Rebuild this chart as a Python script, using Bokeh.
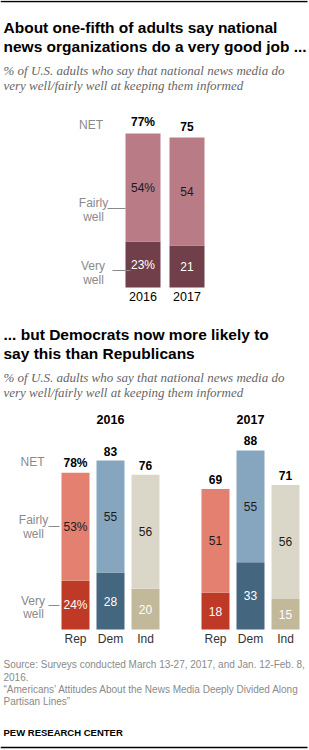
from bokeh.plotting import figure
from bokeh.layouts import column
from bokeh.models import Range1d
from bokeh.core.properties import value
from bokeh.embed import file_html
from bokeh.resources import INLINE

# ---------------- data ----------------
years = ["2016", "2017"]
all_very = [23, 21]
all_fairly = [54, 54]
all_net = [77, 75]

parties = ["Rep", "Dem", "Ind"]
very_2016 = [24, 28, 20]
fairly_2016 = [53, 55, 56]
net_2016 = [78, 83, 76]
very_2017 = [18, 33, 15]
fairly_2017 = [51, 55, 56]
net_2017 = [69, 88, 71]

title1 = ["About one-fifth of adults say national",
          "news organizations do a very good job ..."]
title2 = ["... but Democrats now more likely to",
          "say this than Republicans"]
subtitle = ["% of U.S. adults who say that national news media do",
            "very well/fairly well at keeping them informed"]
footer = ["Source: Surveys conducted March 13-27, 2017, and Jan. 12-Feb. 8,",
          "2016.",
          "\u201cAmericans\u2019 Attitudes About the News Media Deeply Divided Along",
          "Partisan Lines\u201d"]
credit = "PEW RESEARCH CENTER"

# ---------------- styles ----------------
W = 309
SANS = value("Liberation Sans")
SERIF = value("Liberation Serif")
GRAY = "#8a8a8a"
TOP_FAIRLY, TOP_VERY = "#b97c86", "#713f4a"
P_FAIRLY = ["#e3806f", "#86a6bf", "#dbd7c8"]
P_VERY = ["#be3a26", "#44677f", "#c2b99b"]


def make_fig(h, xr, yr):
    p = figure(width=W, height=h, x_range=xr, y_range=yr, output_backend="svg",
               toolbar_location=None, tools="", x_axis_location=None,
               y_axis_location=None, min_border=0, min_border_left=0,
               min_border_right=0, min_border_top=0, min_border_bottom=0)
    p.grid.grid_line_color = None
    p.outline_line_color = None
    p.background_fill_color = "white"
    p.border_fill_color = "white"
    return p


def header(h, lines, tb, sb, rule=None):
    p = make_fig(h, Range1d(0, W), Range1d(h, 0))
    if rule is not None:
        p.segment(x0=[0], y0=[rule], x1=[307], y1=[rule], line_color="black", line_width=1.5)
    p.text(x=[3, 3], y=tb, text=lines, text_font=SANS, text_font_style="bold",
           text_font_size="15.5px", text_color="black", text_baseline="alphabetic")
    p.text(x=[3, 3], y=sb, text=subtitle, text_font=SERIF, text_font_style="italic",
           text_font_size="13px", text_color="#666666", text_baseline="alphabetic")
    return p


# ---------- header 1 ----------
h1 = header(100, title1, [27, 46], [70, 85], rule=1)

# ---------- chart 1 ----------
S1 = 2.0          # px per percentage point
BASE1 = 187       # bar base, px from top of this figure
U1 = 44.0         # px per category step
X1 = 142.5        # px centre of first bar
c1 = make_fig(205, Range1d(-X1 / U1, (W - X1) / U1), Range1d(-(205 - BASE1) / S1, BASE1 / S1))
idx1 = list(range(len(years)))
tot1 = [v + f for v, f in zip(all_very, all_fairly)]
c1.vbar(x=idx1, bottom=0, top=all_very, width=35 / U1, fill_color=TOP_VERY, line_color=None)
c1.vbar(x=idx1, bottom=all_very, top=tot1, width=35 / U1, fill_color=TOP_FAIRLY, line_color=None)
c1.text(x=idx1, y=[(a + b) / 2 for a, b in zip(all_very, tot1)],
        text=[f"{v}%" if i == 0 else str(v) for i, v in enumerate(all_fairly)],
        text_font=SANS, text_font_size="12px", text_color="#1a1a1a",
        text_align="center", text_baseline="middle")
c1.text(x=idx1, y=[v / 2 for v in all_very],
        text=[f"{v}%" if i == 0 else str(v) for i, v in enumerate(all_very)],
        text_font=SANS, text_font_size="12px", text_color="white",
        text_align="center", text_baseline="middle")
c1.text(x=idx1, y=tot1, y_offset=-11.5,
        text=[f"{v}%" if i == 0 else str(v) for i, v in enumerate(all_net)],
        text_font=SANS, text_font_style="bold", text_font_size="12px", text_color="black",
        text_align="center", text_baseline="middle")
c1.text(x=idx1, y=[0, 0], y_offset=9, text=years, text_font=SANS, text_font_size="12.5px",
        text_color="black", text_align="center", text_baseline="middle")


def px1(x):
    return (x - X1) / U1


def py1(y):
    return (BASE1 + 100 - y) / S1


c1.text(x=[px1(90.5), px1(93), px1(93), px1(92.5), px1(93)],
        y=[py1(124), py1(202), py1(216), py1(265), py1(279)],
        text=["NET", "Fairly", "well", "Very", "well"],
        text_font=SANS, text_font_size="12px", text_color=GRAY,
        text_align="center", text_baseline="middle")
c1.segment(x0=[px1(107), px1(112)], y0=[py1(208), py1(270)],
           x1=[px1(125), px1(130)], y1=[py1(208), py1(270)],
           line_color="#8a8a8a", line_width=1)

# ---------- header 2 ----------
h2 = header(95, title2, [29, 48], [72, 87])

# ---------- chart 2 ----------
S2 = 2.035
BASE2 = 229
U2 = 35.0
X2 = 75.0
c2 = make_fig(250, Range1d(-X2 / U2, (W - X2) / U2), Range1d(-(250 - BASE2) / S2, BASE2 / S2))
for g, (very, fairly, net) in enumerate([(very_2016, fairly_2016, net_2016),
                                         (very_2017, fairly_2017, net_2017)]):
    xs = [g * 4 + i for i in range(len(parties))]
    tot = [v + f for v, f in zip(very, fairly)]
    c2.vbar(x=xs, bottom=0, top=very, width=28 / U2, fill_color=P_VERY, line_color=None)
    c2.vbar(x=xs, bottom=very, top=tot, width=28 / U2, fill_color=P_FAIRLY, line_color=None)
    pct = (g == 0)
    c2.text(x=xs, y=[(a + b) / 2 for a, b in zip(very, tot)],
            text=[f"{v}%" if (pct and i == 0) else str(v) for i, v in enumerate(fairly)],
            text_font=SANS, text_font_size="12px", text_color="#1a1a1a",
            text_align="center", text_baseline="middle")
    c2.text(x=xs, y=[v / 2 for v in very],
            text=[f"{v}%" if (pct and i == 0) else str(v) for i, v in enumerate(very)],
            text_font=SANS, text_font_size="12px", text_color="white",
            text_align="center", text_baseline="middle")
    c2.text(x=xs, y=tot, y_offset=-9.5,
            text=[f"{v}%" if (pct and i == 0) else str(v) for i, v in enumerate(net)],
            text_font=SANS, text_font_style="bold", text_font_size="12px", text_color="black",
            text_align="center", text_baseline="middle")
    c2.text(x=xs, y=[0] * 3, y_offset=9, text=parties, text_font=SANS, text_font_size="12px",
            text_color="#333333", text_align="center", text_baseline="middle")


def px2(x):
    return (x - X2) / U2


def py2(y):
    return (BASE2 + 400 - y) / S2


c2.text(x=[1, 5], y=[py2(419)] * 2, text=years, text_font=SANS, text_font_style="bold",
        text_font_size="12.5px", text_color="black", text_align="center", text_baseline="middle")
c2.text(x=[px2(32), px2(33), px2(33), px2(32.5), px2(33)],
        y=[py2(461), py2(519), py2(533), py2(600), py2(613)],
        text=["NET", "Fairly", "well", "Very", "well"],
        text_font=SANS, text_font_size="12px", text_color=GRAY,
        text_align="center", text_baseline="middle")
c2.segment(x0=[px2(48), px2(48)], y0=[py2(526), py2(605)],
           x1=[px2(59), px2(59)], y1=[py2(526), py2(605)],
           line_color="#8a8a8a", line_width=1)

# ---------- footer ----------
f = make_fig(100, Range1d(0, W), Range1d(100, 0))
f.text(x=[3] * 4, y=[14, 26, 39, 51], text=footer, text_font=SANS, text_font_size="10px",
       text_color=GRAY, text_baseline="alphabetic")
f.text(x=[3], y=[82], text=[credit], text_font=SANS, text_font_style="bold",
       text_font_size="9.5px", text_color="black", text_baseline="alphabetic")
f.segment(x0=[0], y0=[97], x1=[307], y1=[97], line_color="black", line_width=1.5)

layout = column(h1, c1, h2, c2, f, spacing=0)
open("out.html", "w").write(file_html(layout, INLINE))
